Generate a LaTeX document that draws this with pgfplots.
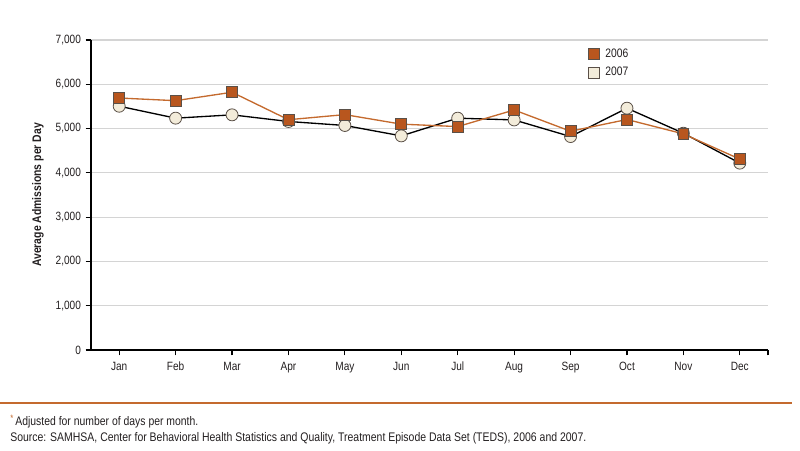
\documentclass[border=0pt]{standalone}
\usepackage{fontspec}
\setmainfont{Liberation Sans}[FakeStretch=0.84]
\usepackage{pgfplots}
\pgfplotsset{compat=1.18}
\definecolor{c06}{HTML}{B8561E}
\definecolor{c06line}{HTML}{C46A2E}
\definecolor{c07}{HTML}{F3ECDA}
\definecolor{edge}{HTML}{5A5048}
\definecolor{gridc}{HTML}{D4D4D4}
\definecolor{txt}{HTML}{231F20}
\begin{document}
\begin{tikzpicture}
\path[use as bounding box] (0,0) rectangle (600pt,337.5pt);
\begin{axis}[
  at={(68.25pt,75pt)}, anchor=south west,
  scale only axis, width=507.75pt, height=232.5pt,
  xmin=-0.5, xmax=11.5, ymin=0, ymax=7000,
  axis x line*=bottom, axis y line*=left,
  axis line style={-, line width=0.9pt, black},
  tick align=outside, major tick length=4pt,
  tick style={line width=0.9pt, black},
  xtick={0,...,11},
  xticklabels={Jan,Feb,Mar,Apr,May,Jun,Jul,Aug,Sep,Oct,Nov,Dec},
  extra x ticks={11.5}, extra x tick labels={},
  extra x tick style={grid=none},
  ytick={0,1000,...,7000},
  scaled y ticks=false,
  /pgf/number format/.cd, 1000 sep={,}, assume math mode=true,
  /pgfplots/.cd,
  ymajorgrids, grid style={gridc, line width=0.9pt},
  ticklabel style={font=\fontsize{9pt}{11pt}\selectfont, text=txt},
  xticklabel style={yshift=-1.5pt},
  ylabel={\bfseries Average Admissions per Day},
  ylabel style={at={(axis description cs:-0.0783,0.5)}, anchor=center, font=\fontsize{9.3pt}{11pt}\selectfont, text=txt},
  legend style={draw=none, fill=none, at={(axis description cs:0.728,0.99)}, anchor=north west, font=\fontsize{9.2pt}{11pt}\selectfont, text=txt, row sep=2pt},
  legend cell align=left,
]
\addlegendimage{only marks, mark=square*, mark size=4.2pt, mark options={fill=c06, draw=edge, line width=0.5pt}}
\addlegendentry{\hspace{2.5pt}2006}
\addlegendimage{only marks, mark=square*, mark size=4.2pt, mark options={fill=c07, draw=edge, line width=0.5pt}}
\addlegendentry{\hspace{2.5pt}2007}
\addplot[forget plot, black, line width=1pt, mark=*, mark size=4.5pt, mark options={fill=c07, draw=edge, line width=0.6pt}] coordinates {
(0,5505) (1,5235) (2,5310) (3,5160) (4,5070) (5,4835) (6,5235) (7,5195) (8,4820) (9,5460) (10,4895) (11,4220)};
\addplot[forget plot, c06line, line width=1pt, mark=square*, mark size=4.1pt, mark options={fill=c06, draw=edge, line width=0.6pt}] coordinates {
(0,5690) (1,5630) (2,5820) (3,5200) (4,5315) (5,5100) (6,5045) (7,5420) (8,4940) (9,5205) (10,4880) (11,4310)};
\end{axis}
\draw[c06line, line width=1.1pt] (0pt,35.25pt) -- (594pt,35.25pt);
\node[anchor=base west, inner sep=0pt, text=txt, font=\fontsize{9.3pt}{11pt}\selectfont] at (7.5pt,18.6pt) {\textcolor{c06line}{\raisebox{0.6ex}{\scriptsize *}}\,Adjusted for number of days per month.};
\node[anchor=base west, inner sep=0pt, text=txt, font=\fontsize{9.35pt}{11pt}\selectfont] at (7.5pt,6.5pt) {Source: SAMHSA, Center for Behavioral Health Statistics and Quality, Treatment Episode Data Set (TEDS), 2006 and 2007.};
\end{tikzpicture}
\end{document}
